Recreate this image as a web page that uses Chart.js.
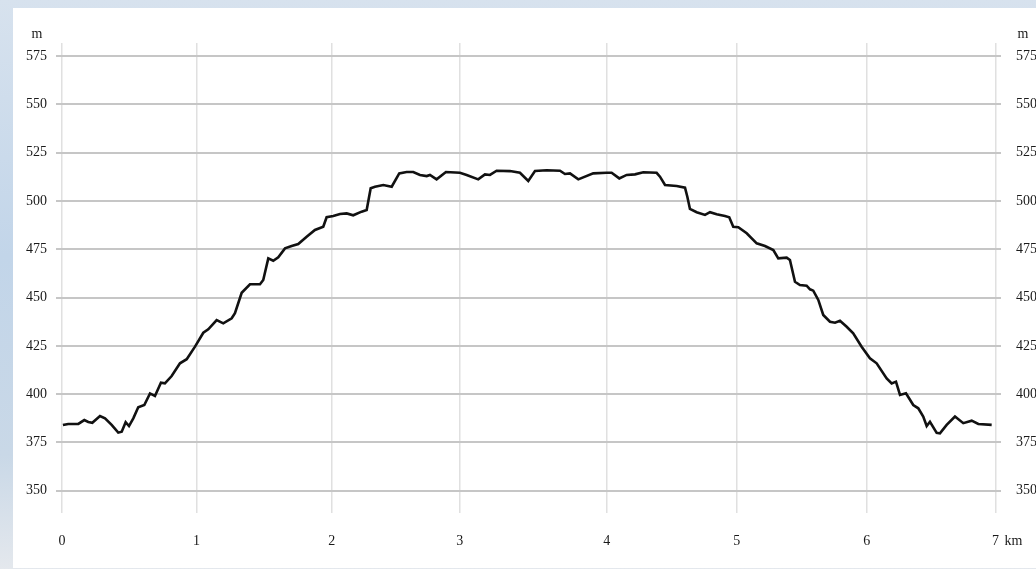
<!DOCTYPE html>
<html>
<head>
<meta charset="utf-8">
<title>Elevation profile</title>
<script src="https://cdn.jsdelivr.net/npm/chart.js@4.4.1/dist/chart.umd.min.js"></script>
<style>
    html, body { margin: 0; padding: 0; }
    body {
        width: 1036px; height: 569px; overflow: hidden; position: relative;
        background: linear-gradient(180deg, #d7e2ee 0%, #c2d5e9 45%, #c9d8e7 80%, #e4e8ed 100%);
    }
    #panel { position: absolute; left: 13px; top: 8px; width: 1023px; height: 560px; background: #fff; }
</style>
</head>
<body>
<div id="panel"><canvas id="profileChart" width="1023" height="560"></canvas></div>
<script>
// profile samples: position along the track (sample index, 0..1000) and elevation in m
const sampleIdx = [1, 6.7, 17.5, 23.9, 28.2, 32.5, 40.7, 46.1, 53.2, 60.3, 64, 68.2, 71.8, 76.4, 81.7, 88.2, 94.3, 99.6,
    106, 110.3, 117.5, 126.4, 133.6, 142.5, 151.4, 156.7, 165.7, 172.8, 181.8, 185.3, 192.5, 201.4, 212.1, 215.6,
    221, 226.3, 231.7, 238.9, 246, 253.1, 262.1, 271, 279.9, 283.5, 290.6, 297.8, 305, 312, 321, 326.4, 330.7,
    335.3, 344.2, 353.2, 361.3, 369.2, 376.3, 383.5, 390.7, 394.2, 401.3, 411.3, 426.3, 433.5, 445.9, 453.1,
    458.5, 465.6, 479.9, 490.6, 499.5, 506.7, 519.2, 533.5, 538.8, 544.2, 553.1, 569.1, 583.5, 588.8, 597,
    604.9, 613.8, 622.7, 637, 640.6, 646, 658.5, 667.4, 669.9, 672.7, 679.9, 688.8, 694.2, 701.3, 710.2,
    714.8, 719.1, 724.5, 733.5, 744.2, 753.1, 762, 767.3, 776.3, 779.8, 785.2, 790.5, 797.7, 801.3, 804.8,
    810.2, 815.5, 822.7, 828.1, 833.4, 840.6, 847.6, 856.6, 865.5, 872.7, 883.4, 888.8, 893.4, 897.7, 904.1,
    911.9, 917.3, 922.6, 926.3, 929.8, 937, 940.5, 947.7, 956.6, 965.5, 974.5, 981.6, 995.9];
const elevation = [384, 384.6, 384.6, 386.6, 385.6, 385.2, 388.7, 387.5, 384.1, 380.1, 380.6, 385.5, 383.5, 387.5, 393.2, 394.4, 400.4, 399.1,
    406, 405.6, 409.4, 416, 418.1, 424.6, 431.8, 433.6, 438.4, 436.7, 439.3, 441.9, 452.5, 456.9, 456.9, 459.1,
    470.3, 469.1, 470.9, 475.5, 476.7, 477.7, 481.5, 485, 486.7, 491.6, 492.2, 493.3, 493.6, 492.6, 494.5, 495.3, 506.6,
    507.4, 508.3, 507.4, 514.3, 515, 515, 513.5, 512.9, 513.5, 511.2, 515, 514.6, 513.5, 511.2, 513.8,
    513.5, 515.7, 515.5, 514.6, 510.4, 515.5, 515.9, 515.7, 514, 514.3, 511.2, 514.3, 514.6, 514.6, 511.7,
    513.5, 513.8, 514.9, 514.6, 512.6, 508.3, 507.8, 506.9, 502.2, 495.9, 494.2, 492.8, 494.2, 493.1, 492.2,
    491.6, 486.7, 486.4, 483.3, 478.1, 476.7, 474.6, 470.3, 470.7, 469.5, 458.2, 456.5, 456.2, 454.3, 453.6,
    448.8, 441, 437.5, 437, 438, 434.9, 431.5, 424.6, 418.6, 416, 408.2, 405.6, 406.5, 399.6, 400.5,
    394.4, 392.7, 388.4, 383.5, 385.7, 380, 379.7, 384.1, 388.4, 385, 386.3, 384.6, 384.1];

// km marks sit at these sample positions
const kmTickIdx = [0, 144, 289, 426, 583.5, 722.7, 862, 1000];
const kmLabels = ['0', '1', '2', '3', '4', '5', '6', '7'];
const elevTicks = [350, 375, 400, 425, 450, 475, 500, 525, 550, 575];
const yUnit = 'm';
const xUnit = 'km';

const labelFont = { family: '"Liberation Serif", "DejaVu Serif", serif', size: 14 };
const textColor = '#1a1a1a';

// draws the unit labels (m above both y axes, km after the last km mark)
const unitLabels = {
    id: 'unitLabels',
    afterDraw(chart) {
        const { ctx, scales } = chart;
        ctx.save();
        ctx.font = '14px "Liberation Serif", serif';
        ctx.fillStyle = textColor;
        ctx.textBaseline = 'middle';
        ctx.textAlign = 'center';
        ctx.fillText(yUnit, scales.y.right - 19, scales.y.top - 9);
        ctx.fillText(yUnit, scales.y2.left + 22, scales.y2.top - 9);
        ctx.textAlign = 'left';
        const lastX = scales.x.getPixelForValue(kmTickIdx[kmTickIdx.length - 1]);
        ctx.fillText(xUnit, lastX + 9, scales.x.top + 28);
        ctx.restore();
    }
};

document.addEventListener('DOMContentLoaded', () => {
    const ctx = document.getElementById('profileChart').getContext('2d');
    new Chart(ctx, {
        type: 'line',
        data: {
            datasets: [{
                data: sampleIdx.map((x, i) => ({ x: x, y: elevation[i] })),
                borderColor: '#111',
                borderWidth: 2.6,
                pointRadius: 0,
                tension: 0,
                fill: false
            }]
        },
        options: {
            responsive: false,
            animation: false,
            layout: { padding: { top: 35, left: 0, right: 0, bottom: 0 } },
            plugins: { legend: { display: false }, tooltip: { enabled: false } },
            scales: {
                x: {
                    type: 'linear',
                    min: -6.4,
                    max: 1005.9,
                    afterBuildTicks: axis => { axis.ticks = kmTickIdx.map(v => ({ value: v })); },
                    afterFit: axis => { axis.height = 55; },
                    grid: { color: '#e0e0e0', lineWidth: 1.5, drawTicks: false },
                    border: { display: false },
                    ticks: {
                        callback: (v, i) => kmLabels[i],
                        padding: 20,
                        maxRotation: 0,
                        autoSkip: false,
                        font: labelFont,
                        color: textColor
                    }
                },
                y: {
                    position: 'left',
                    min: 338.5,
                    max: 581.8,
                    afterBuildTicks: axis => { axis.ticks = elevTicks.map(v => ({ value: v })); },
                    afterFit: axis => { axis.width = 43; },
                    grid: { color: '#c6c6c6', lineWidth: 2, drawTicks: false },
                    border: { display: false },
                    ticks: { padding: 9, font: labelFont, color: textColor }
                },
                y2: {
                    position: 'right',
                    min: 338.5,
                    max: 581.8,
                    afterBuildTicks: axis => { axis.ticks = elevTicks.map(v => ({ value: v })); },
                    afterFit: axis => { axis.width = 35; },
                    grid: { display: false, drawTicks: false },
                    border: { display: false },
                    ticks: { padding: 15, font: labelFont, color: textColor }
                }
            }
        },
        plugins: [unitLabels]
    });
});
</script>
</body>
</html>
